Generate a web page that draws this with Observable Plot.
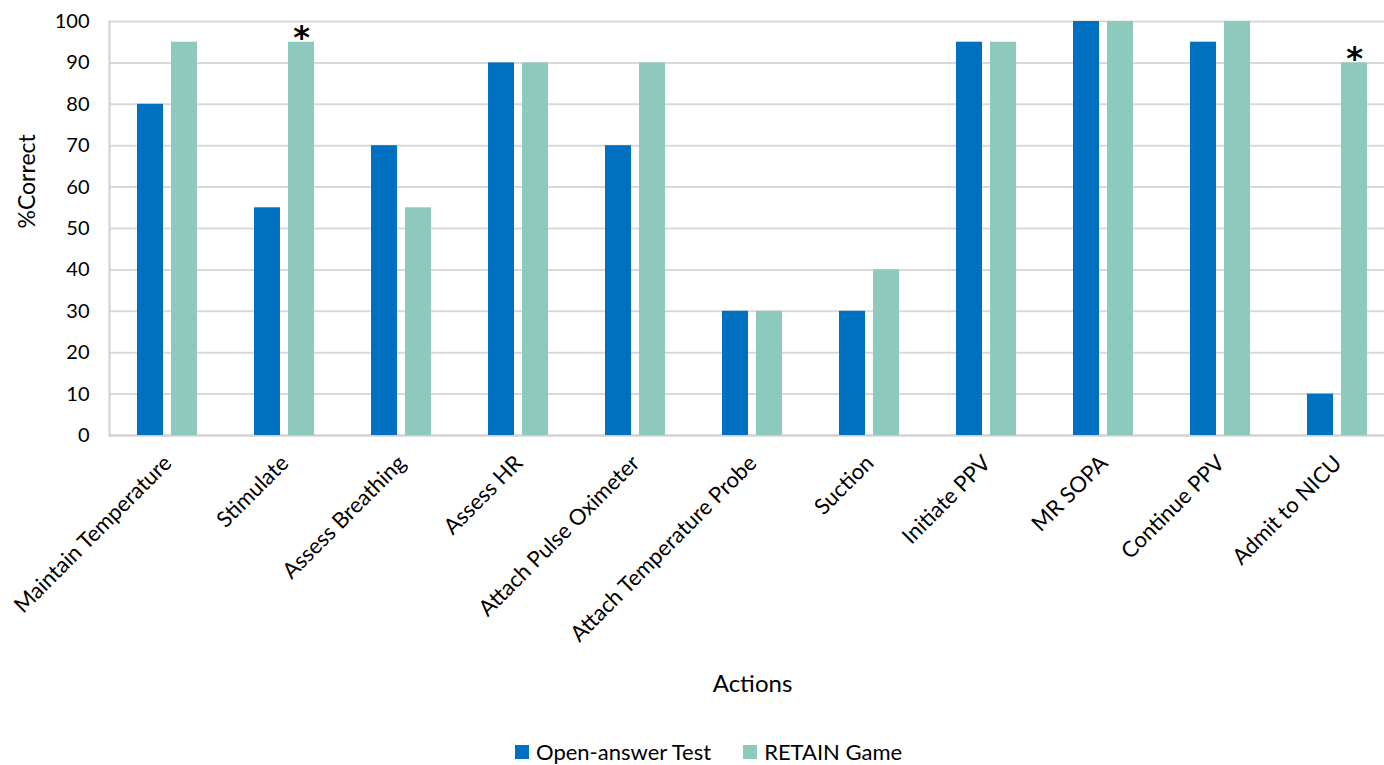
<!DOCTYPE html>
<html>
<head>
<meta charset="utf-8">
<script src="https://cdn.jsdelivr.net/npm/d3@7"></script>
<script src="https://cdn.jsdelivr.net/npm/@observablehq/plot@0.6"></script>
<style>
  html, body { margin: 0; padding: 0; background: #fff; }
  body { width: 1384px; height: 765px; overflow: hidden; font-family: Lato, "Open Sans", sans-serif; color: #000; }
  #wrap { position: relative; width: 1384px; height: 765px; overflow: hidden; }
  #chart { position: absolute; left: 0; top: 0; width: 1396px; }
  #chart svg { max-width: none !important; }
  #xlabel { position: absolute; left: 109px; width: 1287px; top: 668px; text-align: center; font-size: 24px; }
  #legend { position: absolute; left: 515px; top: 738px; display: flex; gap: 32px; font-size: 22px; line-height: 28px; }
  .item { display: flex; align-items: center; gap: 7px; }
  .sw { width: 14px; height: 14px; display: inline-block; }
</style>
</head>
<body>
<div id="wrap">
  <div id="chart"></div>
  <div id="xlabel">Actions</div>
  <div id="legend"></div>
</div>
<script>
const categories = ["Maintain Temperature", "Stimulate", "Assess Breathing", "Assess HR", "Attach Pulse Oximeter", "Attach Temperature Probe", "Suction", "Initiate PPV", "MR SOPA", "Continue PPV", "Admit to NICU"];
const seriesNames = ["Open-answer Test", "RETAIN Game"];
const openAnswer = [80, 55, 70, 90, 70, 30, 30, 95, 100, 95, 10];
const retainGame = [95, 95, 55, 90, 90, 30, 40, 95, 100, 100, 90];
const significant = ["Stimulate", "Admit to NICU"];
const colors = ["#0070C0", "#8DC9BD"];
const yTicks = [0, 10, 20, 30, 40, 50, 60, 70, 80, 90, 100];

const rows = [];
categories.forEach((c, i) => {
  rows.push({action: c, series: seriesNames[0], value: openAnswer[i]});
  rows.push({action: c, series: seriesNames[1], value: retainGame[i]});
});
const stars = rows.filter(d => d.series === seriesNames[1] && significant.includes(d.action));

const chart = Plot.plot({
  width: 1396,
  height: 730,
  marginLeft: 109,
  marginRight: 0,
  marginTop: 21,
  marginBottom: 295,
  style: {fontFamily: "Lato, 'Open Sans', sans-serif", color: "#000", background: "transparent", maxWidth: "none"},
  fx: {domain: categories, paddingInner: 0, paddingOuter: 0},
  x: {domain: seriesNames, paddingInner: 0.235, paddingOuter: 0.838, axis: null},
  y: {domain: [0, 100], range: [435, 21]},
  color: {domain: seriesNames, range: colors},
  marks: [
    Plot.gridY(yTicks, {stroke: "#d9d9d9", strokeOpacity: 1, strokeWidth: 2}),
    Plot.ruleY([0], {stroke: "#d0d0d0", strokeWidth: 2}),
    Plot.frame({anchor: "left", facetAnchor: "left", stroke: "#d0d0d0", strokeWidth: 2}),
    Plot.barY(rows, {fx: "action", x: "series", y: "value", fill: "series"}),
    Plot.text(stars, {fx: "action", x: "series", y: "value", text: () => "*", fontSize: 32, fontWeight: "bold", fontFamily: "DejaVu Sans", lineAnchor: "middle", dy: -4, fill: "#000"}),
    Plot.axisY(yTicks, {tickSize: 0, tickPadding: 20, fontSize: 20, label: null}),
    Plot.text(["%Correct"], {frameAnchor: "left", facet: "super", rotate: -90, dx: -82, fontSize: 23, fill: "#000"}),
    Plot.axisFx({anchor: "bottom", tickRotate: -45, tickSize: 0, tickPadding: 24, fontSize: 22, label: null})
  ]
});
document.getElementById("chart").appendChild(chart);

const legend = document.getElementById("legend");
seriesNames.forEach((s, i) => {
  const it = document.createElement("div");
  it.className = "item";
  const sw = document.createElement("span");
  sw.className = "sw";
  sw.style.background = colors[i];
  const t = document.createElement("span");
  t.textContent = s;
  it.appendChild(sw);
  it.appendChild(t);
  legend.appendChild(it);
});
</script>
</body>
</html>
